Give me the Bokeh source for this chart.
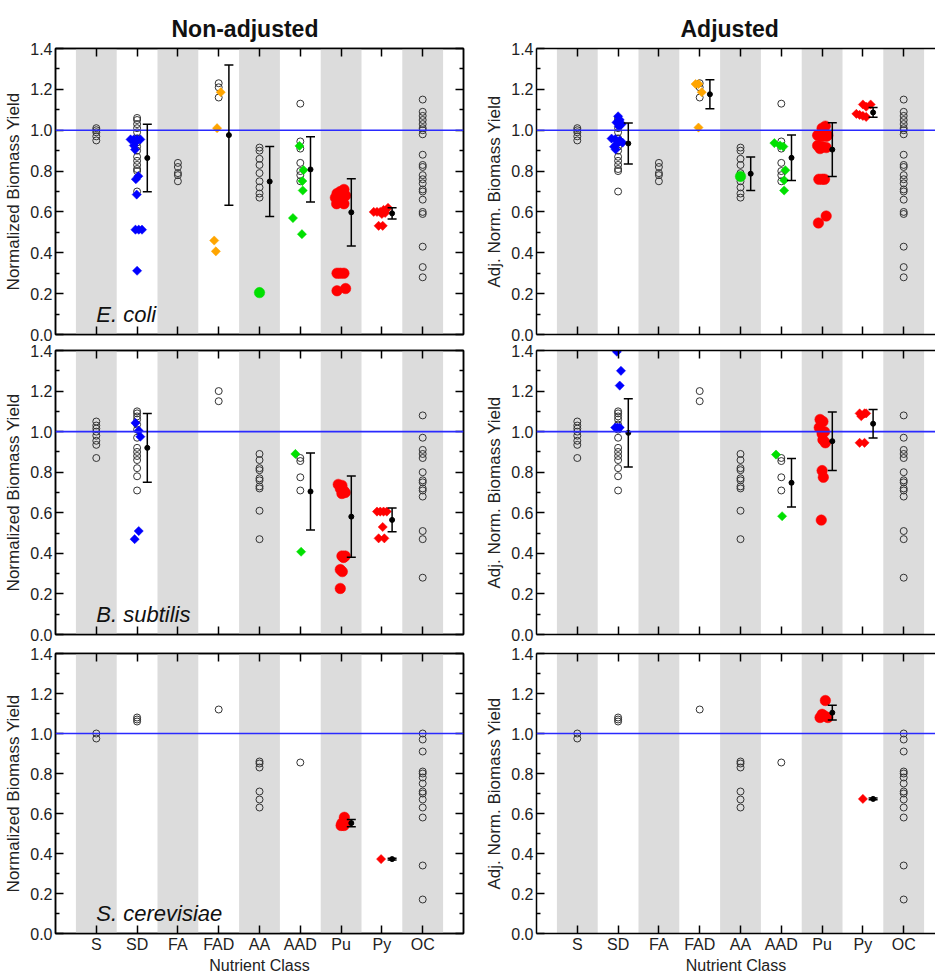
import numpy as np
from bokeh.plotting import figure
from bokeh.models import (Range1d, LinearAxis, FixedTicker, Span, Label,
                          ColumnDataSource, Whisker, TeeHead, PrintfTickFormatter)
from bokeh.layouts import column, row
from bokeh.embed import file_html
from bokeh.resources import INLINE

# ---------------- data ----------------
categories = ["S", "SD", "FA", "FAD", "AA", "AAD", "Pu", "Py", "OC"]
shaded = ["S", "FA", "AA", "Pu", "OC"]
y_ticks = [0.0, 0.2, 0.4, 0.6, 0.8, 1.0, 1.2, 1.4]
y_minor_ticks = [0.1, 0.3, 0.5, 0.7, 0.9, 1.1, 1.3]
reference_level = 1.0

# open circles (identical in non-adjusted and adjusted panels)
ec_open_S = [1.01, 1.00, 0.99, 0.97, 0.95]
ec_open_SD = [1.06, 1.05, 1.03, 1.01, 0.99, 0.96, 0.94, 0.92, 0.90, 0.87, 0.85, 0.83, 0.81, 0.80, 0.70]
ec_open_FA = [0.84, 0.82, 0.79, 0.78, 0.75]
ec_open_FAD = [1.23, 1.21, 1.16]
ec_open_AA = [0.915, 0.90, 0.86, 0.83, 0.79, 0.75, 0.72, 0.69, 0.67]
ec_open_AAD = [1.13, 0.945, 0.91, 0.84, 0.80, 0.78, 0.75]
ec_open_OC = [1.15, 1.09, 1.07, 1.05, 1.03, 1.01, 1.00, 0.98, 0.88, 0.83, 0.82, 0.78,
              0.76, 0.74, 0.71, 0.70, 0.66, 0.60, 0.59, 0.43, 0.33, 0.28]

bs_open_S = [1.05, 1.03, 1.015, 1.00, 0.98, 0.955, 0.935, 0.87]
bs_open_SD = [1.10, 1.09, 1.075, 1.06, 1.035, 1.01, 0.97, 0.92, 0.90, 0.88, 0.86, 0.82, 0.78, 0.71]
bs_open_FAD = [1.20, 1.15]
bs_open_AA = [0.89, 0.86, 0.82, 0.81, 0.77, 0.76, 0.73, 0.72, 0.61, 0.47]
bs_open_AAD = [0.87, 0.855, 0.775, 0.71]
bs_open_OC = [1.08, 0.97, 0.91, 0.89, 0.87, 0.80, 0.76, 0.75, 0.72, 0.71, 0.68, 0.51, 0.47, 0.28]

sc_open_S = [1.00, 0.975]
sc_open_SD = [1.08, 1.07, 1.06]
sc_open_FAD = [1.12]
sc_open_AA = [0.86, 0.85, 0.83, 0.71, 0.67, 0.63]
sc_open_AAD = [0.855]
sc_open_OC = [1.00, 0.97, 0.91, 0.81, 0.80, 0.78, 0.75, 0.71, 0.70, 0.67, 0.63, 0.58, 0.34, 0.17]

# E. coli, non-adjusted coloured points (values and horizontal jitter in category units)
ec_raw_SD_blue = [0.955, 0.955, 0.955, 0.955, 0.94, 0.925, 0.905, 0.775, 0.76, 0.685, 0.513, 0.513, 0.513, 0.312]
ec_raw_SD_blue_dx = [-0.16, -0.08, 0.0, 0.08, -0.04, -0.08, -0.05, 0.03, -0.03, -0.01, -0.04, 0.04, 0.12, 0.0]
ec_raw_FAD_orange = [1.186, 1.01, 0.46, 0.407]
ec_raw_FAD_orange_dx = [0.05, -0.04, -0.11, -0.07]
ec_raw_AA_green = [0.205]
ec_raw_AA_green_dx = [0.0]
ec_raw_AAD_green = [0.923, 0.805, 0.751, 0.705, 0.57, 0.491]
ec_raw_AAD_green_dx = [-0.02, 0.08, 0.05, 0.06, -0.18, 0.04]
ec_raw_Pu_red = [0.71, 0.70, 0.69, 0.68, 0.67, 0.66, 0.65, 0.64, 0.64, 0.30, 0.30, 0.30, 0.214, 0.225]
ec_raw_Pu_red_dx = [0.07, -0.02, -0.10, 0.11, -0.14, 0.02, -0.06, 0.07, -0.11, -0.10, -0.02, 0.07, -0.10, 0.11]
ec_raw_Py_red = [0.62, 0.61, 0.60, 0.60, 0.60, 0.595, 0.59, 0.532, 0.532]
ec_raw_Py_red_dx = [0.15, 0.04, -0.20, -0.12, -0.04, 0.08, 0.0, -0.08, 0.02]
ec_raw_mean_cats = ["SD", "FAD", "AA", "AAD", "Pu", "Py"]
ec_raw_mean = [0.864, 0.976, 0.749, 0.808, 0.598, 0.593]
ec_raw_err = [0.165, 0.343, 0.171, 0.160, 0.165, 0.028]

# E. coli, adjusted
ec_adj_SD_blue = [1.068, 1.051, 1.038, 1.03, 1.018, 0.959, 0.956, 0.95, 0.939, 0.93, 0.919, 0.906]
ec_adj_SD_blue_dx = [0.0, 0.04, -0.04, 0.09, 0.02, -0.16, -0.07, 0.04, 0.11, -0.04, -0.10, -0.06]
ec_adj_FAD_orange = [1.226, 1.226, 1.186, 1.013]
ec_adj_FAD_orange_dx = [-0.10, -0.03, 0.05, -0.03]
ec_adj_AA_green = [0.774]
ec_adj_AA_green_dx = [0.0]
ec_adj_AAD_green = [0.937, 0.925, 0.92, 0.804, 0.755, 0.705]
ec_adj_AAD_green_dx = [-0.17, -0.03, 0.05, 0.10, 0.07, 0.07]
ec_adj_Pu_red = [1.02, 1.01, 0.975, 0.97, 0.97, 0.975, 0.925, 0.92, 0.915, 0.91, 0.76, 0.76, 0.76, 0.546, 0.58]
ec_adj_Pu_red_dx = [0.08, 0.0, -0.11, -0.02, 0.10, 0.14, -0.11, 0.0, 0.10, -0.05, -0.08, 0.0, 0.06, -0.09, 0.10]
ec_adj_Py_red = [1.126, 1.126, 1.115, 1.08, 1.075, 1.07, 1.065]
ec_adj_Py_red_dx = [0.0, 0.19, 0.08, -0.16, -0.08, 0.0, 0.08]
ec_adj_mean_cats = ["SD", "FAD", "AA", "AAD", "Pu", "Py"]
ec_adj_mean = [0.935, 1.176, 0.787, 0.865, 0.905, 1.087]
ec_adj_err = [0.100, 0.071, 0.082, 0.111, 0.132, 0.024]

# B. subtilis, non-adjusted
bs_raw_SD_blue = [1.043, 1.005, 0.975, 0.51, 0.47]
bs_raw_SD_blue_dx = [-0.04, 0.04, 0.08, 0.04, -0.06]
bs_raw_AAD_green = [0.89, 0.408]
bs_raw_AAD_green_dx = [-0.12, 0.02]
bs_raw_Pu_red = [0.74, 0.735, 0.72, 0.71, 0.70, 0.695, 0.387, 0.387, 0.38, 0.32, 0.31, 0.227]
bs_raw_Pu_red_dx = [-0.07, 0.02, -0.02, 0.06, 0.10, 0.02, 0.02, 0.10, 0.06, -0.02, 0.03, -0.02]
bs_raw_Py_red = [0.606, 0.606, 0.606, 0.606, 0.53, 0.474, 0.474]
bs_raw_Py_red_dx = [-0.12, -0.04, 0.04, 0.12, 0.02, -0.08, 0.06]
bs_raw_mean_cats = ["SD", "AAD", "Pu", "Py"]
bs_raw_mean = [0.92, 0.705, 0.581, 0.565]
bs_raw_err = [0.17, 0.19, 0.20, 0.058]

# B. subtilis, adjusted
bs_adj_SD_blue = [1.394, 1.30, 1.227, 1.02, 1.02, 1.02]
bs_adj_SD_blue_dx = [-0.03, 0.07, 0.04, -0.07, -0.02, 0.04]
bs_adj_AAD_green = [0.887, 0.583]
bs_adj_AAD_green_dx = [-0.13, 0.02]
bs_adj_Pu_red = [1.06, 1.05, 1.02, 1.00, 0.99, 0.96, 0.945, 0.808, 0.775, 0.564]
bs_adj_Pu_red_dx = [-0.05, 0.02, -0.07, 0.06, 0.0, 0.02, 0.08, 0.0, 0.03, -0.02]
bs_adj_Py_red = [1.09, 1.09, 1.09, 1.076, 0.945, 0.945]
bs_adj_Py_red_dx = [-0.08, 0.04, 0.08, -0.04, -0.08, 0.04]
bs_adj_mean_cats = ["SD", "AAD", "Pu", "Py"]
bs_adj_mean = [0.994, 0.748, 0.953, 1.039]
bs_adj_err = [0.168, 0.12, 0.144, 0.07]

# S. cerevisiae, non-adjusted
sc_raw_Pu_red = [0.581, 0.552, 0.552, 0.54, 0.54]
sc_raw_Pu_red_dx = [0.08, 0.02, 0.11, 0.0, 0.07]
sc_raw_Py_red = [0.372]
sc_raw_Py_red_dx = [-0.02]
sc_raw_mean_cats = ["Pu", "Py"]
sc_raw_mean = [0.552, 0.372]
sc_raw_err = [0.018, 0.004]

# S. cerevisiae, adjusted
sc_adj_Pu_red = [1.165, 1.096, 1.088, 1.08, 1.08]
sc_adj_Pu_red_dx = [0.08, 0.0, 0.06, -0.05, 0.14]
sc_adj_Py_red = [0.673]
sc_adj_Py_red_dx = [0.0]
sc_adj_mean_cats = ["Pu", "Py"]
sc_adj_mean = [1.104, 0.673]
sc_adj_err = [0.037, 0.004]

# ---------------- styling ----------------
FONT = "Liberation Sans"
BAND = "#dcdcdc"
COLORS = {"blue": "#0000ff", "orange": "#ffa500", "green": "#00e000", "red": "#ff0000"}
pos = {c: i + 1 for i, c in enumerate(categories)}
MEAN_OFFSET = 0.25
Y_MIN, Y_MAX = 0.0, 1.4
PX_PER_CAT = 40.8


def style_axis(ax, show_labels, label=None, label_size="16px"):
    ax.axis_line_width = 1.5
    ax.axis_line_color = "black"
    ax.major_tick_line_width = 1.5
    ax.minor_tick_line_width = 1.5
    ax.major_tick_in = 8
    ax.major_tick_out = 0
    ax.minor_tick_in = 4
    ax.minor_tick_out = 0
    ax.major_label_text_font = FONT
    ax.axis_label_text_font = FONT
    ax.axis_label_text_font_style = "normal"
    ax.axis_label_text_font_size = label_size
    ax.axis_label_text_color = "#222222"
    if show_labels:
        ax.major_label_text_color = "#222222"
        ax.major_label_text_font_size = "16px"
        ax.major_label_standoff = 3
    else:
        ax.major_label_text_color = None
        ax.major_label_text_font_size = "0px"
        ax.major_label_standoff = 0
    if label:
        ax.axis_label = label
        ax.axis_label_standoff = 4


def make_panel(colx, rowy, opens, groups, mean_cats, means, errs, species, ylabel,
               title=None, title_offset=0):
    left = colx == 0
    fw = 408 if left else 399
    fh = 286 if rowy == 0 else 284
    mbl = 55 if left else 66
    mbr = 7 if left else 0
    mbt = {0: 48, 1: 8, 2: 9}[rowy]
    mbb = {0: 8, 1: 10, 2: 39}[rowy]
    x_end = 10 if left else fw / PX_PER_CAT
    kw = {}
    if title:
        kw["title"] = title
    p = figure(width=mbl + fw + mbr, height=mbt + fh + mbb,
               x_range=Range1d(0, x_end), y_range=Range1d(Y_MIN, Y_MAX),
               output_backend="svg", toolbar_location=None,
               x_axis_location=None, y_axis_location=None,
               min_border_left=mbl, min_border_right=mbr,
               min_border_top=mbt, min_border_bottom=mbb,
               background_fill_color="white", border_fill_color="white", **kw)
    p.grid.visible = False
    if left:
        p.outline_line_color = "black"
        p.outline_line_width = 1.5
    else:
        p.outline_line_color = None
    if title:
        p.title.align = "left"
        p.title.offset = title_offset
        p.title.text_font = FONT
        p.title.text_font_size = "23px"
        p.title.text_font_style = "bold"
        p.title.standoff = 14
        p.title.text_color = "#111111"

    # axes
    ya = LinearAxis(ticker=FixedTicker(ticks=y_ticks, minor_ticks=y_minor_ticks),
                    formatter=PrintfTickFormatter(format="%.1f"))
    style_axis(ya, True, ylabel, "17px")
    p.add_layout(ya, "left")
    if left:
        yr = LinearAxis(ticker=FixedTicker(ticks=y_ticks, minor_ticks=y_minor_ticks))
        style_axis(yr, False)
        p.add_layout(yr, "right")
    xb = LinearAxis(ticker=FixedTicker(ticks=[pos[c] for c in categories], minor_ticks=[]),
                    major_label_overrides={pos[c]: c for c in categories})
    style_axis(xb, rowy == 2, "Nutrient Class" if rowy == 2 else None)
    if rowy == 2:
        xb.major_label_standoff = 2
        xb.axis_label_standoff = 1
    p.add_layout(xb, "below")
    xt = LinearAxis(ticker=FixedTicker(ticks=[pos[c] for c in categories], minor_ticks=[]))
    style_axis(xt, False)
    p.add_layout(xt, "above")

    # shaded bands
    p.vbar(x=[pos[c] for c in shaded], width=1, bottom=Y_MIN, top=Y_MAX,
           fill_color=BAND, line_color=None)

    p.add_layout(Span(location=reference_level, dimension="width",
                      line_color="#2a2aff", line_width=1.6))

    # open circles
    xs, ys = [], []
    for c, vals in opens.items():
        xs += [pos[c]] * len(vals)
        ys += list(vals)
    p.scatter(xs, ys, marker="circle", size=7, fill_color=None,
              line_color="#333333", line_width=1)

    # coloured points
    for c, kind, color, vals, dx in groups:
        gx = [pos[c] + d for d in dx]
        if kind == "diamond":
            p.scatter(gx, vals, marker="square", angle=np.pi / 4, size=6.5,
                      fill_color=COLORS[color], line_color=COLORS[color], line_width=0.5)
        else:
            p.scatter(gx, vals, marker="circle", size=10.5,
                      fill_color=COLORS[color], line_color=COLORS[color], line_width=0.5)

    # mean +/- error
    mx = [pos[c] + MEAN_OFFSET for c in mean_cats]
    src = ColumnDataSource(dict(x=mx, m=means,
                                upper=[m + e for m, e in zip(means, errs)],
                                lower=[m - e for m, e in zip(means, errs)]))
    p.add_layout(Whisker(base="x", upper="upper", lower="lower", source=src,
                         level="annotation",
                         line_color="black", line_width=1.5,
                         upper_head=TeeHead(size=9, line_width=1.5, line_color="black"),
                         lower_head=TeeHead(size=9, line_width=1.5, line_color="black")))
    p.scatter("x", "m", source=src, marker="circle", size=5,
              fill_color="black", line_color="black")

    if species:
        p.add_layout(Label(x=1.0, y=0.1, text=species, text_font=FONT,
                           text_font_style="italic", text_font_size="22px",
                           text_baseline="alphabetic", text_color="#111111"))
    return p


ec_opens = {"S": ec_open_S, "SD": ec_open_SD, "FA": ec_open_FA, "FAD": ec_open_FAD,
            "AA": ec_open_AA, "AAD": ec_open_AAD, "OC": ec_open_OC}
bs_opens = {"S": bs_open_S, "SD": bs_open_SD, "FAD": bs_open_FAD,
            "AA": bs_open_AA, "AAD": bs_open_AAD, "OC": bs_open_OC}
sc_opens = {"S": sc_open_S, "SD": sc_open_SD, "FAD": sc_open_FAD,
            "AA": sc_open_AA, "AAD": sc_open_AAD, "OC": sc_open_OC}

ec_raw_groups = [("SD", "diamond", "blue", ec_raw_SD_blue, ec_raw_SD_blue_dx),
                 ("FAD", "diamond", "orange", ec_raw_FAD_orange, ec_raw_FAD_orange_dx),
                 ("AA", "dot", "green", ec_raw_AA_green, ec_raw_AA_green_dx),
                 ("AAD", "diamond", "green", ec_raw_AAD_green, ec_raw_AAD_green_dx),
                 ("Pu", "dot", "red", ec_raw_Pu_red, ec_raw_Pu_red_dx),
                 ("Py", "diamond", "red", ec_raw_Py_red, ec_raw_Py_red_dx)]
ec_adj_groups = [("SD", "diamond", "blue", ec_adj_SD_blue, ec_adj_SD_blue_dx),
                 ("FAD", "diamond", "orange", ec_adj_FAD_orange, ec_adj_FAD_orange_dx),
                 ("AA", "dot", "green", ec_adj_AA_green, ec_adj_AA_green_dx),
                 ("AAD", "diamond", "green", ec_adj_AAD_green, ec_adj_AAD_green_dx),
                 ("Pu", "dot", "red", ec_adj_Pu_red, ec_adj_Pu_red_dx),
                 ("Py", "diamond", "red", ec_adj_Py_red, ec_adj_Py_red_dx)]
bs_raw_groups = [("SD", "diamond", "blue", bs_raw_SD_blue, bs_raw_SD_blue_dx),
                 ("AAD", "diamond", "green", bs_raw_AAD_green, bs_raw_AAD_green_dx),
                 ("Pu", "dot", "red", bs_raw_Pu_red, bs_raw_Pu_red_dx),
                 ("Py", "diamond", "red", bs_raw_Py_red, bs_raw_Py_red_dx)]
bs_adj_groups = [("SD", "diamond", "blue", bs_adj_SD_blue, bs_adj_SD_blue_dx),
                 ("AAD", "diamond", "green", bs_adj_AAD_green, bs_adj_AAD_green_dx),
                 ("Pu", "dot", "red", bs_adj_Pu_red, bs_adj_Pu_red_dx),
                 ("Py", "diamond", "red", bs_adj_Py_red, bs_adj_Py_red_dx)]
sc_raw_groups = [("Pu", "dot", "red", sc_raw_Pu_red, sc_raw_Pu_red_dx),
                 ("Py", "diamond", "red", sc_raw_Py_red, sc_raw_Py_red_dx)]
sc_adj_groups = [("Pu", "dot", "red", sc_adj_Pu_red, sc_adj_Pu_red_dx),
                 ("Py", "diamond", "red", sc_adj_Py_red, sc_adj_Py_red_dx)]

YL_RAW = "Normalized Biomass Yield"
YL_ADJ = "Adj. Norm. Biomass Yield"

p1 = make_panel(0, 0, ec_opens, ec_raw_groups, ec_raw_mean_cats, ec_raw_mean, ec_raw_err,
                "E. coli", YL_RAW, "Non-adjusted", 116)
p2 = make_panel(1, 0, ec_opens, ec_adj_groups, ec_adj_mean_cats, ec_adj_mean, ec_adj_err,
                None, YL_ADJ, "Adjusted", 144)
p3 = make_panel(0, 1, bs_opens, bs_raw_groups, bs_raw_mean_cats, bs_raw_mean, bs_raw_err,
                "B. subtilis", YL_RAW)
p4 = make_panel(1, 1, bs_opens, bs_adj_groups, bs_adj_mean_cats, bs_adj_mean, bs_adj_err,
                None, YL_ADJ)
p5 = make_panel(0, 2, sc_opens, sc_raw_groups, sc_raw_mean_cats, sc_raw_mean, sc_raw_err,
                "S. cerevisiae", YL_RAW)
p6 = make_panel(1, 2, sc_opens, sc_adj_groups, sc_adj_mean_cats, sc_adj_mean, sc_adj_err,
                None, YL_ADJ)

layout = column(row(p1, p2), row(p3, p4), row(p5, p6))
open("out.html", "w").write(file_html(layout, INLINE))
